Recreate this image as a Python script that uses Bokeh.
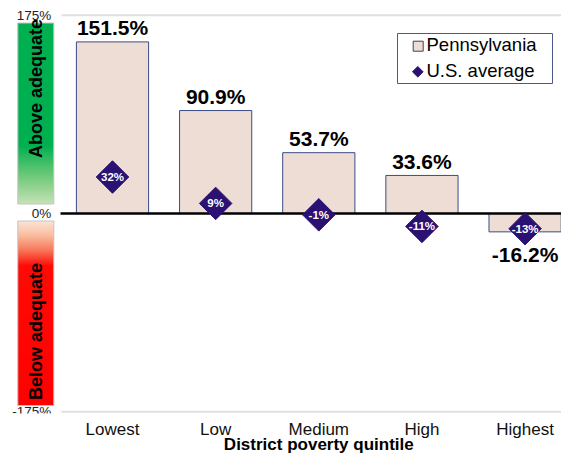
import numpy as np
from math import pi
from bokeh.plotting import figure
from bokeh.models import Range1d, FixedTicker, ColumnDataSource, LinearAxis
from bokeh.embed import file_html
from bokeh.resources import INLINE
from bokeh.core.properties import value

# ---------------- data ----------------
categories = ["Lowest", "Low", "Medium", "High", "Highest"]
pa_values = [151.5, 90.9, 53.7, 33.6, -16.2]      # Pennsylvania
us_values = [32.2, 8.9, -1.2, -11.4, -13.4]       # U.S. average
y_ticks = [175, 0, -175]
y_tick_labels = ["175%", "0%", "-175%"]
series_names = ["Pennsylvania", "U.S. average"]
band_labels = ["Above adequate", "Below adequate"]
x_title = "District poverty quintile"

# ---------------- layout (page pixels) ----------------
FONT = "Liberation Sans"
W, H = 561, 457
BORDER_BOTTOM = 44
CAT0_PX, CAT_STEP_PX = 112.0, 103.15
ZERO_PY, PX_PER_UNIT = 213.0, 1.1327


def xd(px):
    return (px - CAT0_PX) / CAT_STEP_PX


def yd(py):
    return (ZERO_PY - py) / PX_PER_UNIT


BAR_FILL = "#EEDDD4"
BAR_LINE = "#3A4C86"
DIAMOND = "#2B1171"

p = figure(width=W, height=H, output_backend="svg", toolbar_location=None,
           x_range=Range1d(xd(0), xd(W)),
           y_range=Range1d(yd(H - BORDER_BOTTOM), yd(0)),
           y_axis_location=None,
           min_border_left=0, min_border_right=0, min_border_top=0,
           min_border_bottom=BORDER_BOTTOM)
p.outline_line_color = None
p.grid.visible = False
p.background_fill_color = "white"
p.border_fill_color = "white"


def style_axis(ax, size, bold, standoff):
    ax.axis_line_color = None
    ax.major_tick_line_color = None
    ax.minor_tick_line_color = None
    ax.major_tick_out = 0
    ax.major_tick_in = 0
    ax.minor_tick_out = 0
    ax.minor_tick_in = 0
    ax.major_label_text_font = FONT
    ax.major_label_text_font_size = size
    ax.major_label_text_line_height = 1.0
    ax.major_label_text_color = "#111111" if not bold else "black"
    ax.major_label_text_font_style = "bold" if bold else "normal"
    ax.major_label_standoff = standoff


xa = p.xaxis[0]
xa.ticker = FixedTicker(ticks=list(range(len(categories))))
xa.major_label_overrides = {i: c for i, c in enumerate(categories)}
style_axis(xa, "17px", False, 6)

# axis title: a second axis with one tick under the chart's centre category
title_axis = LinearAxis(ticker=FixedTicker(ticks=[2]),
                        major_label_overrides={2: x_title})
style_axis(title_axis, "17px", True, -7)
p.add_layout(title_axis, "below")


# ---------------- gradient side bands ----------------
def grad_img(stops, top_py, bot_py):
    n = int(round(bot_py - top_py))
    img = np.zeros((n, 1), dtype=np.uint32)
    view = img.view(dtype=np.uint8).reshape((n, 1, 4))
    sp = [s[0] for s in stops]
    for r in range(n):
        py = bot_py - (r + 0.5)
        for c in range(3):
            view[r, 0, c] = int(round(np.interp(py, sp, [s[1][c] for s in stops])))
        view[r, 0, 3] = 255
    return img


BAND_L, BAND_R = 17.3, 53.3
G_TOP, G_BOT = 22.5, 203.5
R_TOP, R_BOT = 220.5, 405.0
green_stops = [(G_TOP, (0, 176, 80)), (145, (0, 176, 80)), (175, (110, 200, 120)),
               (G_BOT, (198, 226, 182))]
red_stops = [(R_TOP, (251, 229, 215)), (235, (249, 190, 160)), (250, (248, 120, 90)),
             (266, (255, 10, 5)), (R_BOT, (255, 0, 0))]

for stops, t, b in [(green_stops, G_TOP, G_BOT), (red_stops, R_TOP, R_BOT)]:
    p.image_rgba(image=[grad_img(stops, t, b)], x=xd(BAND_L), y=yd(b),
                 dw=xd(BAND_R) - xd(BAND_L), dh=yd(t) - yd(b))
    p.quad(left=xd(BAND_L), right=xd(BAND_R), top=yd(t), bottom=yd(b),
           fill_color=None, line_color="#C4C4C4", line_width=1)

p.text(x=[xd(35.5), xd(35.5)], y=[yd(88), yd(331)], text=band_labels, angle=pi / 2,
       text_align="center", text_baseline="middle", text_font=value(FONT),
       text_font_style="bold", text_font_size="18px", text_color="black")

# y tick labels
p.text(x=[xd(50.7)] * len(y_ticks), y=y_ticks, text=y_tick_labels,
       text_align="right", text_baseline="middle", text_font=value(FONT),
       text_font_size="13.5px", text_color="#222222")

# gridlines at +-175
grid_vals = [v for v in y_ticks if v != 0]
p.segment(x0=[xd(61)] * len(grid_vals), x1=[xd(W)] * len(grid_vals),
          y0=grid_vals, y1=grid_vals, line_color="#E0E0E0", line_width=2)

# ---------------- bars ----------------
src = ColumnDataSource(dict(
    x=list(range(len(categories))),
    pa=pa_values,
    us=us_values,
    us_lbl=[f"{round(v):d}%" for v in us_values],
))
p.vbar(x="x", top="pa", bottom=0, width=0.70, source=src,
       fill_color=BAR_FILL, line_color=BAR_LINE, line_width=1)

# zero line
p.segment(x0=[xd(60)], x1=[xd(W)], y0=[0], y1=[0], line_color="black", line_width=2.5)

# value labels (anchored at text middle)
pos = [(i, v) for i, v in enumerate(pa_values) if v >= 0]
neg = [(i, v) for i, v in enumerate(pa_values) if v < 0]
p.text(x=[i for i, _ in pos], y=[v for _, v in pos], text=[f"{v:.1f}%" for _, v in pos],
       text_align="center", text_baseline="middle", y_offset=-14,
       text_font=value(FONT), text_font_style="bold", text_font_size="21px",
       text_color="black")
p.text(x=[i for i, _ in neg], y=[v for _, v in neg], text=[f"{v:.1f}%" for _, v in neg],
       text_align="center", text_baseline="middle", y_offset=22.5,
       text_font=value(FONT), text_font_style="bold", text_font_size="21px",
       text_color="black")

# U.S. average diamonds
p.scatter(x="x", y="us", source=src, marker="square", size=23, angle=pi / 4,
          fill_color=DIAMOND, line_color=DIAMOND)
p.text(x="x", y="us", text="us_lbl", source=src, text_align="center",
       text_baseline="middle", text_font=value(FONT), text_font_size="11.5px",
       text_font_style="bold", text_color="white")

# ---------------- legend (drawn) ----------------
p.quad(left=xd(397), right=xd(552), top=yd(33), bottom=yd(83),
       fill_color="white", line_color="#4A5A8A", line_width=1)
p.scatter(x=[xd(417.7)], y=[yd(45.7)], marker="square", size=10,
          fill_color=BAR_FILL, line_color="#404060", line_width=1)
p.scatter(x=[xd(417.3)], y=[yd(71.3)], marker="square", size=7.5, angle=pi / 4,
          fill_color=DIAMOND, line_color=DIAMOND)
p.text(x=[xd(426), xd(426)], y=[yd(43.7), yd(70.3)], text=series_names,
       text_align="left", text_baseline="middle", text_font=value(FONT),
       text_font_size="18.5px", text_color="black")

open("out.html", "w").write(file_html(p, INLINE))
